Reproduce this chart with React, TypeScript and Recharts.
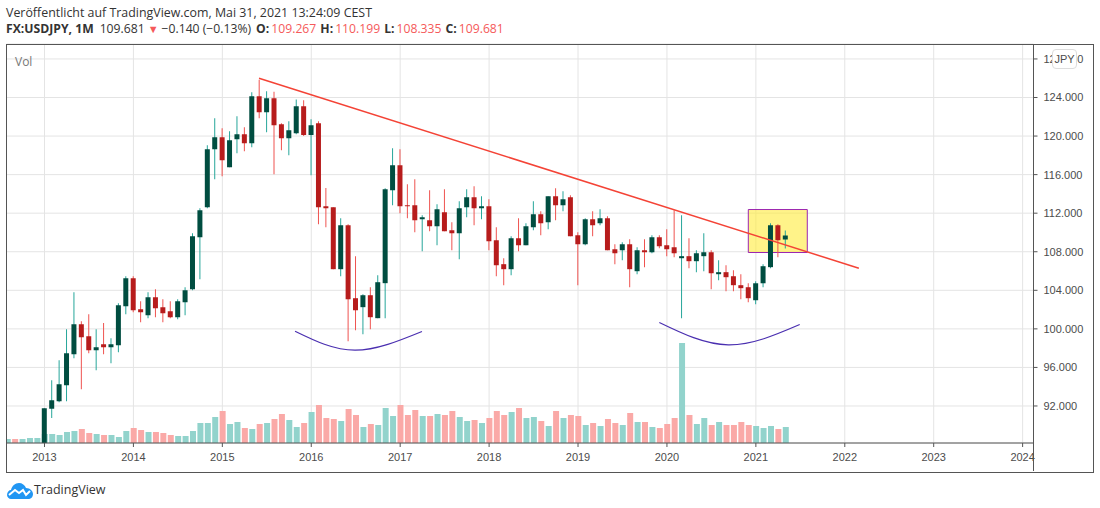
import {
  Bar,
  CartesianGrid,
  Cell,
  ComposedChart,
  Line,
  ReferenceArea,
  ReferenceLine,
  XAxis,
  YAxis,
} from "recharts";

// monthly USD/JPY candles, first entry is Jan 2013
const opens = [
  86.7, 91.7, 92.5, 94.15, 97.37, 100.48, 99.24, 97.78, 98.4, 98.1, 98.3, 102.35,
  105.25, 102.04, 101.41, 103.28, 102.24, 101.83, 101.21, 102.76, 104.11, 109.51, 112.62, 118.63,
  119.88, 116.77, 119.67, 120.19, 119.26, 124.13, 122.47, 123.93, 121.23, 119.78, 120.3, 123.1,
  120.1, 121.33, 112.72, 112.62, 106.19, 110.75, 103.18, 102.25, 103.49, 101.11, 104.74, 114.38,
  116.98, 112.83, 112.83, 111.38, 111.27, 110.65, 112.1, 110.23, 109.92, 112.62, 113.66, 112.52,
  112.72, 109.2, 106.71, 106.19, 109.4, 108.68, 110.55, 111.89, 111.06, 113.76, 112.83, 113.66,
  109.72, 108.78, 111.38, 110.96, 111.48, 108.27, 108.16, 108.78, 105.98, 108.16, 107.95, 109.51,
  108.68, 108.47, 107.33, 107.54, 107.02, 107.54, 107.95, 105.67, 105.88, 105.46, 104.53, 104.32,
  102.97, 104.73, 106.4, 110.75, 109.267,
];
const highs = [
  91.77, 94.67, 96.75, 99.96, 103.8, 100.79, 101.52, 99.96, 100.6, 99.03, 102.66, 105.46,
  105.46, 102.87, 103.8, 104.11, 103.07, 102.87, 103.07, 104.32, 109.92, 112.52, 119.05, 121.85,
  120.8, 120.5, 122.06, 120.92, 124.55, 125.85, 124.65, 124.6, 121.33, 121.54, 123.8, 123.72,
  121.75, 121.54, 114.6, 112.62, 111.48, 110.86, 107.54, 103.6, 104.32, 105.57, 114.59, 118.74,
  118.64, 115.0, 115.52, 111.79, 114.38, 112.93, 114.49, 111.06, 113.24, 114.49, 114.8, 113.76,
  113.45, 110.55, 107.33, 109.6, 111.48, 110.96, 113.24, 112.2, 113.76, 114.59, 114.28, 113.86,
  110.03, 111.48, 112.2, 112.41, 111.69, 108.78, 108.99, 109.3, 108.47, 109.3, 109.72, 109.72,
  110.34, 112.31, 111.79, 109.4, 108.16, 109.92, 108.16, 107.12, 106.6, 106.08, 105.67, 104.73,
  104.94, 106.71, 110.96, 110.86, 110.199,
];
const lows = [
  86.5, 90.76, 92.39, 92.5, 96.95, 93.74, 97.47, 95.71, 97.37, 96.44, 97.58, 101.52,
  101.73, 100.69, 101.1, 101.2, 100.69, 101.1, 101.0, 101.41, 104.0, 105.15, 112.52, 115.52,
  115.84, 116.77, 118.22, 118.43, 118.84, 121.85, 120.4, 116.04, 118.53, 118.0, 120.2, 120.0,
  115.94, 110.86, 110.54, 106.19, 105.46, 98.72, 99.86, 99.45, 99.97, 101.11, 101.11, 112.83,
  112.0, 111.48, 110.03, 108.06, 110.13, 108.68, 110.13, 108.16, 107.23, 111.58, 110.75, 111.38,
  108.16, 105.46, 104.53, 105.57, 108.06, 108.68, 110.23, 109.72, 110.34, 111.27, 112.2, 109.6,
  104.53, 108.68, 109.6, 110.75, 108.16, 106.71, 107.12, 104.32, 105.67, 106.4, 107.85, 108.37,
  107.54, 107.43, 101.11, 106.29, 105.88, 105.98, 104.11, 105.05, 103.9, 103.9, 103.08, 102.76,
  102.56, 104.32, 106.29, 107.43, 108.335,
];
const closes = [
  91.77, 92.6, 94.26, 97.47, 100.48, 99.13, 97.78, 98.1, 98.1, 98.4, 102.45, 105.25,
  101.93, 101.73, 103.28, 102.14, 101.62, 101.21, 102.87, 104.0, 109.6, 112.31, 118.63, 119.88,
  117.5, 119.57, 120.19, 119.26, 124.13, 122.47, 123.93, 121.13, 119.78, 120.6, 123.1, 120.1,
  121.13, 112.62, 112.52, 106.19, 110.75, 103.07, 101.93, 103.49, 101.21, 104.84, 114.49, 116.98,
  112.72, 112.72, 111.27, 111.58, 110.65, 112.41, 110.13, 109.92, 112.52, 113.66, 112.52, 112.72,
  109.09, 106.6, 106.19, 109.4, 108.68, 110.65, 111.89, 110.96, 113.76, 112.83, 113.45, 109.6,
  108.78, 111.38, 110.75, 111.48, 108.16, 107.85, 108.78, 106.19, 108.16, 107.95, 109.51, 108.58,
  108.26, 107.85, 107.54, 107.02, 107.85, 107.95, 105.77, 105.88, 105.36, 104.53, 104.22, 103.18,
  104.73, 106.5, 110.75, 109.2, 109.681,
];
// volume starts 5 months before the first visible candle (Aug 2012)
const leadDown = [false, true, false, false, false];
const volumes = [
  4, 4, 4, 5, 5,
  9, 9, 8, 11, 12, 14, 10, 9, 8, 8, 6, 12,
  15, 13, 11, 11, 10, 8, 7, 7, 12, 20, 20, 26,
  32, 19, 21, 15, 14, 19, 20, 24, 29, 23, 16, 20,
  31, 38, 25, 24, 22, 34, 28, 16, 19, 18, 35, 27,
  38, 28, 33, 27, 27, 29, 28, 32, 26, 22, 23, 20,
  25, 32, 28, 31, 35, 25, 26, 22, 17, 32, 25, 28,
  27, 18, 20, 17, 24, 20, 18, 30, 21, 21, 16, 15,
  19, 25, 100, 28, 19, 25, 18, 21, 18, 18, 21, 18,
  17, 15, 17, 14, 16,
];

const yearTicks = [0, 12, 24, 36, 48, 60, 72, 84, 96, 108, 120, 132];
const yearLabels = ["2013", "2014", "2015", "2016", "2017", "2018", "2019", "2020", "2021", "2022", "2023", "2024"];
const priceTicks = [92, 96, 100, 104, 108, 112, 116, 120, 124, 128];

// hand drawn annotations, in month index / price
const trendFrom = { x: 28.95, y: 126.0 };
const trendTo = { x: 109.9, y: 106.29 };
const boxX = [94.98, 102.94];
const boxY = [107.92, 112.38];
const arcLeft = [
  { x: 33.81, p: 99.76 },
  { x: 41.9, p: 97.79 },
  { x: 50.94, p: 99.73 },
];
const arcRight = [
  { x: 82.97, p: 100.66 },
  { x: 92.28, p: 98.34 },
  { x: 101.92, p: 100.45 },
];

const rows = volumes.map((vol, n) => {
  const i = n - leadDown.length;
  if (i < 0) {
    return { x: i, vol, down: leadDown[n], wick: [0, 0], body: [0, 0] };
  }
  return {
    x: i,
    vol,
    down: closes[i] < opens[i],
    wick: [lows[i], highs[i]],
    body: [Math.min(opens[i], closes[i]), Math.max(opens[i], closes[i])],
  };
});

const UP_BODY = "#004d40";
const DOWN_BODY = "#b71c1c";
const UP_WICK = "#26a69a";
const DOWN_WICK = "#ef5350";
const AXIS = "#555";
const GRID = "#e4e4e4";
const RED_TEXT = "#f55a5a";
const monthDomain = [-5.128, 133.468];
const priceDomain = [88.16, 129.55];
const tickStyle = { fontSize: 11, fontFamily: "Liberation Sans, Arial, sans-serif", fill: "#4c4c4c" };
const headFont = "'Open Sans', sans-serif";

const App = () => {
  return (
    <div style={{ position: "absolute", left: 0, top: 0, width: 1100, height: 508, background: "#fff", overflow: "hidden" }}>
      <div style={{ position: "absolute", left: 6, top: 4, fontFamily: headFont, fontSize: 12.4, color: "#333", whiteSpace: "nowrap" }}>
        Veröffentlicht auf TradingView.com, Mai 31, 2021 13:24:09 CEST
      </div>
      <div style={{ position: "absolute", left: 6, top: 20, fontFamily: headFont, fontSize: 12.2, lineHeight: "17px", color: "#333", whiteSpace: "nowrap" }}>
        <b>FX:USDJPY, 1M</b>
        <span style={{ marginLeft: 6 }}>109.681</span>
        <span style={{ color: RED_TEXT, fontSize: 11, margin: "0 3px 0 3px" }}>▼</span>
        <span>−0.140 (−0.13%)</span>
        <b style={{ marginLeft: 5 }}>O:</b>
        <span style={{ color: RED_TEXT, marginLeft: 2 }}>109.267</span>
        <b style={{ marginLeft: 4 }}>H:</b>
        <span style={{ color: RED_TEXT, marginLeft: 2 }}>110.199</span>
        <b style={{ marginLeft: 4 }}>L:</b>
        <span style={{ color: RED_TEXT, marginLeft: 2 }}>108.335</span>
        <b style={{ marginLeft: 4 }}>C:</b>
        <span style={{ color: RED_TEXT, marginLeft: 2 }}>109.681</span>
      </div>

      <ComposedChart
        width={1100}
        height={508}
        data={rows}
        margin={{ top: 44, right: 6.5, bottom: 36, left: 6.5 }}
        style={{ position: "absolute", left: 0, top: 0 }}
      >
        <CartesianGrid stroke={GRID} xAxisId="months" yAxisId="price" />
        <XAxis
          xAxisId="months"
          dataKey="x"
          type="number"
          domain={monthDomain}
          ticks={yearTicks}
          tickFormatter={(v: number) => yearLabels[yearTicks.indexOf(v)]}
          stroke={AXIS}
          tick={tickStyle}
          tickSize={4}
          tickMargin={6}
          height={29}
          interval={0}
          allowDataOverflow
        />
        {/* extra month axes: bars on one x axis get grouped side by side, and the arcs' x values stay out of the bar widths */}
        <XAxis xAxisId="wickMonths" dataKey="x" type="number" hide orientation="top" height={0} domain={monthDomain} ticks={yearTicks} allowDataOverflow />
        <XAxis xAxisId="bodyMonths" dataKey="x" type="number" hide orientation="top" height={0} domain={monthDomain} ticks={yearTicks} allowDataOverflow />
        <XAxis xAxisId="drawings" dataKey="x" type="number" hide orientation="top" height={0} domain={monthDomain} allowDataOverflow />
        <YAxis
          yAxisId="price"
          orientation="right"
          domain={priceDomain}
          ticks={priceTicks}
          tickFormatter={(v: number) => v.toFixed(3)}
          stroke={AXIS}
          tick={tickStyle}
          tickSize={4}
          tickMargin={6}
          width={60}
          interval={0}
          allowDataOverflow
        />
        <YAxis yAxisId="wicks" hide domain={priceDomain} allowDataOverflow />
        <YAxis yAxisId="volume" hide domain={[0, 399]} allowDataOverflow />

        <Bar xAxisId="months" yAxisId="volume" dataKey="vol" barSize={6} isAnimationActive={false}>
          {rows.map((r) => (
            <Cell key={`v-${r.x}`} fill={r.down ? "#faa9a7" : "#92d3cc"} />
          ))}
        </Bar>

        <ReferenceLine
          xAxisId="months"
          yAxisId="price"
          segment={[trendFrom, trendTo]}
          stroke="#f44336"
          strokeWidth={1.5}
        />
        <ReferenceArea
          xAxisId="months"
          yAxisId="price"
          x1={boxX[0]}
          x2={boxX[1]}
          y1={boxY[0]}
          y2={boxY[1]}
          fill="#ffeb3b"
          fillOpacity={0.6}
          stroke="#9c27b0"
          strokeOpacity={1}
        />

        <Bar xAxisId="wickMonths" yAxisId="wicks" dataKey="wick" barSize={1} isAnimationActive={false}>
          {rows.map((r) => (
            <Cell key={`w-${r.x}`} fill={r.down ? DOWN_WICK : UP_WICK} />
          ))}
        </Bar>
        <Bar xAxisId="bodyMonths" yAxisId="price" dataKey="body" barSize={5} isAnimationActive={false}>
          {rows.map((r) => (
            <Cell key={`b-${r.x}`} fill={r.down ? DOWN_BODY : UP_BODY} />
          ))}
        </Bar>

        <Line xAxisId="drawings" yAxisId="price" data={arcLeft} dataKey="p" type="natural" stroke="#4a2fb0" strokeWidth={1.2} dot={false} isAnimationActive={false} />
        <Line xAxisId="drawings" yAxisId="price" data={arcRight} dataKey="p" type="natural" stroke="#4a2fb0" strokeWidth={1.2} dot={false} isAnimationActive={false} />
      </ComposedChart>

      {/* frame round the pane and the axes */}
      <div style={{ position: "absolute", left: 6, top: 43.5, width: 1086, height: 427, border: `1px solid ${AXIS}`, pointerEvents: "none" }} />
      <div style={{ position: "absolute", left: 1033, top: 44, width: 1, height: 427, background: AXIS }} />

      <div style={{ position: "absolute", left: 15, top: 53, fontFamily: headFont, fontSize: 12, color: "#777" }}>Vol</div>
      <div
        style={{
          position: "absolute",
          left: 1052,
          top: 49,
          width: 23,
          height: 18,
          lineHeight: "18px",
          textAlign: "center",
          background: "#fff",
          border: "1px solid #ddd",
          borderRadius: 4,
          fontFamily: "Liberation Sans, Arial, sans-serif",
          fontSize: 11,
          color: "#4c4c4c",
        }}
      >
        JPY
      </div>

      <svg width={28} height={18} viewBox="0 0 28 18" style={{ position: "absolute", left: 6, top: 481 }}>
        <path
          d="M1 14c0-3 2-5 4-5 1-4 4-7 8-7 3 0 6 2 7 5 4 0 7 3 7 6 0 3-2 5-5 5H5c-2 0-4-2-4-4z"
          fill="#2196f3"
        />
        <path d="M3 14l6-5 4 3 4-3 3 5 4-4" fill="none" stroke="#fff" strokeWidth={2} />
      </svg>
      <div style={{ position: "absolute", left: 34, top: 481, fontFamily: headFont, fontSize: 12.5, color: "#333" }}>TradingView</div>
    </div>
  );
};

export default App;
